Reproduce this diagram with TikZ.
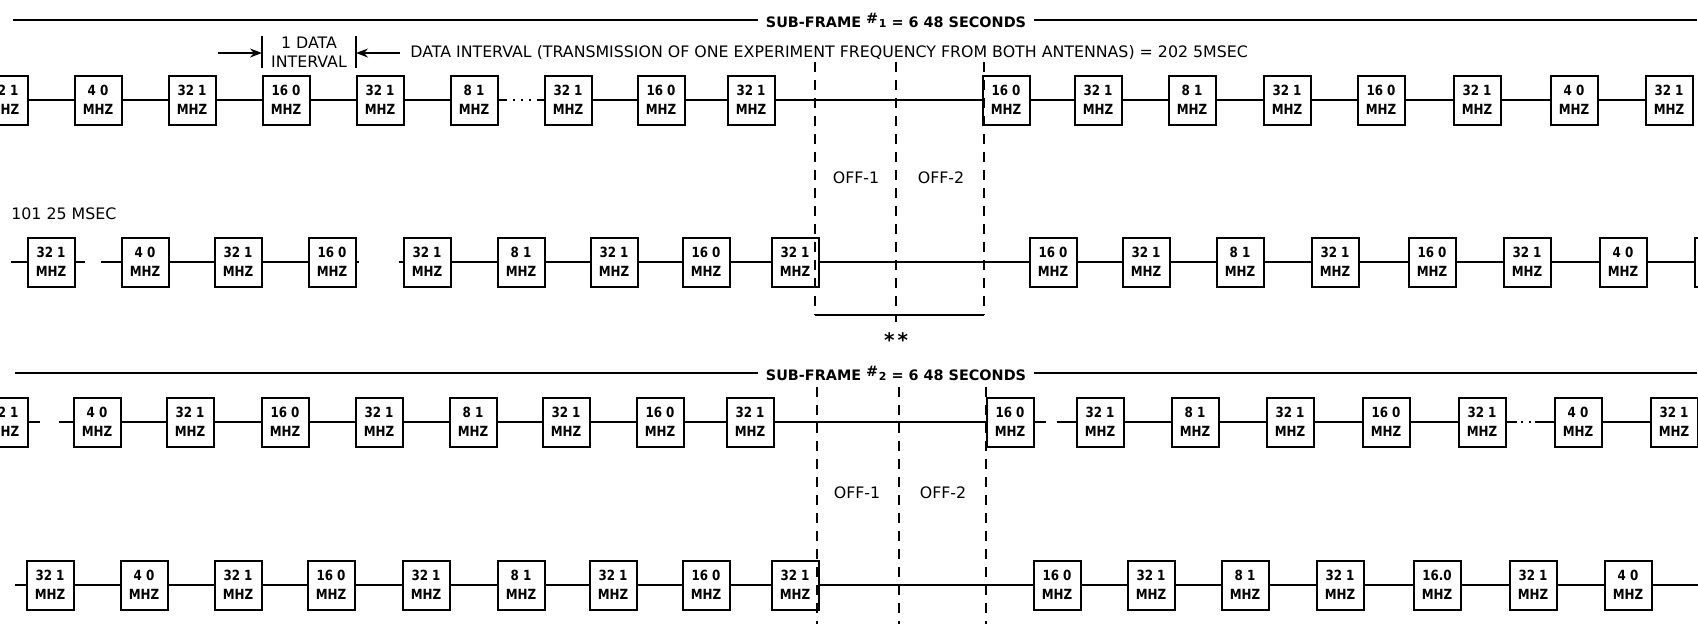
\documentclass[tikz,border=0pt]{standalone}
\usepackage{fontspec}
\setmainfont{DejaVu Sans}
\newfontfamily\boxfam[FakeStretch=0.85]{DejaVu Sans}
\usepackage{tikz}
\usetikzlibrary{arrows.meta, positioning}

\newcommand{\boxfont}{\boxfam\bfseries\fontsize{7}{9.5}\selectfont}
\newcommand{\notefont}{\fontsize{7.9}{9.5}\selectfont}
\newcommand{\titlefont}{\bfseries\fontsize{7.2}{9}\selectfont}
\newcommand{\framenr}[1]{\raisebox{2pt}{\#}\kern.3pt{\fontsize{5.5}{6}\selectfont #1}}

\begin{document}
\begin{tikzpicture}[x=0.5pt, y=-0.5pt,
	freq/.style={rectangle, draw, line width=1pt, minimum width=23.5pt, minimum height=24.5pt, inner sep=0pt, align=center, font=\boxfont},
	link/.style={line width=0.8pt},
	note/.style={inner sep=1pt, font=\notefont},
	title/.style={inner sep=4pt, font=\titlefont},
	divider/.style={line width=0.8pt, dash pattern=on 5pt off 4pt},
	arrow/.style={->, >={Stealth[length=6pt, width=4.5pt]}, line width=0.8pt},
	% liaisons interrompues
	gap a-6/.style={dash pattern=on 4pt off 3pt on 1pt off 3pt on 1pt off 3pt on 1pt off 3pt on 6pt},
	gap b-1/.style={dash pattern=on 4.5pt off 8pt on 12pt},
	gap b-4/.style={dash pattern=on 1pt off 20pt on 4pt},
	gap c-1/.style={dash pattern=on 5.5pt off 9.5pt on 10pt},
	gap c-10/.style={dash pattern=on 5.5pt off 5.5pt on 12pt},
	gap c-15/.style={dash pattern=on 5pt off 2pt on 1pt off 3pt on 1pt off 2pt on 10pt}
	]
	\useasboundingbox (0,0) rectangle (1698,623);
	
	% Sous-trame 1
	\node[title] (sf1) at (896,20) {SUB-FRAME \framenr{1} = 6 48 SECONDS};
	\coordinate (sf1-l) at (13,20);
	\coordinate (sf1-r) at (1697,20);
	\draw[link] (sf1-l) -- (sf1);
	\draw[link] (sf1) -- (sf1-r);
	
	% Intervalle de donnees
	\coordinate (di-l) at (262,53);
	\coordinate (di-r) at (356,53);
	\draw[link] (262,36) -- (262,68);
	\draw[link] (356,36) -- (356,68);
	\node[note, align=center] (di) at (309,52) {1 DATA\\INTERVAL};
	\coordinate (di-a) at (218,53);
	\coordinate (di-b) at (400,53);
	\draw[arrow] (di-a) -- (di-l);
	\draw[arrow] (di-b) -- (di-r);
	\node[note, right=4pt of di-b] (di-txt) {DATA INTERVAL (TRANSMISSION OF ONE EXPERIMENT FREQUENCY FROM BOTH ANTENNAS) = 202 5MSEC};
	
	% Ligne A
	\foreach \x/\f [count=\i] in {4/32 1, 98/4 0, 192/32 1, 286/16 0, 380/32 1, 474/8 1, 568/32 1, 661/16 0, 751/32 1, 1006/16 0, 1098/32 1, 1192/8 1, 1287/32 1, 1381/16 0, 1477/32 1, 1574/4 0, 1669/32 1} {
		\node[freq] (a-\i) at (\x, 100) {\f\\MHZ};
	}
	\foreach \i in {1,...,16} {
		\pgfmathtruncatemacro{\j}{\i+1}
		\draw[link, gap a-\i/.try] (a-\i) -- (a-\j);
	}
	
	% Ligne B
	\node[note, anchor=west] (b-note) at (9,214) {101 25 MSEC};
	\foreach \x/\f [count=\i] in {51/32 1, 145/4 0, 238/32 1, 332/16 0, 427/32 1, 521/8 1, 614/32 1, 706/16 0, 795/32 1, 1053/16 0, 1146/32 1, 1240/8 1, 1335/32 1, 1432/16 0, 1527/32 1, 1623/4 0, 1718/32 1} {
		\node[freq] (b-\i) at (\x, 262) {\f\\MHZ};
	}
	\coordinate (b-in) at (11,262);
	\draw[link] (b-in) -- (b-1);
	\foreach \i in {1,...,16} {
		\pgfmathtruncatemacro{\j}{\i+1}
		\draw[link, gap b-\i/.try] (b-\i) -- (b-\j);
	}
	
	% Zone OFF (sous-trame 1)
	\draw[divider] (815,62) -- (815,315);
	\draw[divider] (896,62) -- (896,315);
	\draw[divider] (984,62) -- (984,315);
	\coordinate (tick) at (896,322);
	\draw[link] (815,315) -- (984,315);
	\draw[link] (896,315) -- (tick);
	\node[note] (off1-a) at (856,178) {OFF-1};
	\node[note] (off2-a) at (941,178) {OFF-2};
	\node[inner sep=0pt, below=5pt of tick, font=\bfseries\fontsize{10}{10}\selectfont] (stars) {*\kern1.5pt*};
	
	% Sous-trame 2
	\node[title] (sf2) at (896,373) {SUB-FRAME \framenr{2} = 6 48 SECONDS};
	\coordinate (sf2-l) at (15,373);
	\coordinate (sf2-r) at (1697,373);
	\draw[link] (sf2-l) -- (sf2);
	\draw[link] (sf2) -- (sf2-r);
	
	% Ligne C
	\foreach \x/\f [count=\i] in {4/32 1, 97/4 0, 190/32 1, 285/16 0, 379/32 1, 473/8 1, 566/32 1, 660/16 0, 750/32 1, 1010/16 0, 1100/32 1, 1195/8 1, 1290/32 1, 1386/16 0, 1482/32 1, 1578/4 0, 1674/32 1} {
		\node[freq] (c-\i) at (\x, 422) {\f\\MHZ};
	}
	\foreach \i in {1,...,16} {
		\pgfmathtruncatemacro{\j}{\i+1}
		\draw[link, gap c-\i/.try] (c-\i) -- (c-\j);
	}
	
	% Ligne D
	\foreach \x/\f [count=\i] in {50/32 1, 144/4 0, 238/32 1, 331/16 0, 426/32 1, 521/8 1, 613/32 1, 706/16 0, 795/32 1, 1057/16 0, 1151/32 1, 1245/8 1, 1340/32 1, 1437/16.0, 1533/32 1, 1628/4 0, 1724/32 1} {
		\node[freq] (d-\i) at (\x, 585) {\f\\MHZ};
	}
	\coordinate (d-in) at (15,585);
	\draw[link] (d-in) -- (d-1);
	\foreach \i in {1,...,16} {
		\pgfmathtruncatemacro{\j}{\i+1}
		\draw[link] (d-\i) -- (d-\j);
	}
	
	% Zone OFF (sous-trame 2)
	\draw[divider] (817,387) -- (817,630);
	\draw[divider] (899,387) -- (899,630);
	\draw[divider] (986,387) -- (986,630);
	\node[note] (off1-b) at (857,493) {OFF-1};
	\node[note] (off2-b) at (943,493) {OFF-2};
	
\end{tikzpicture}
\end{document}
